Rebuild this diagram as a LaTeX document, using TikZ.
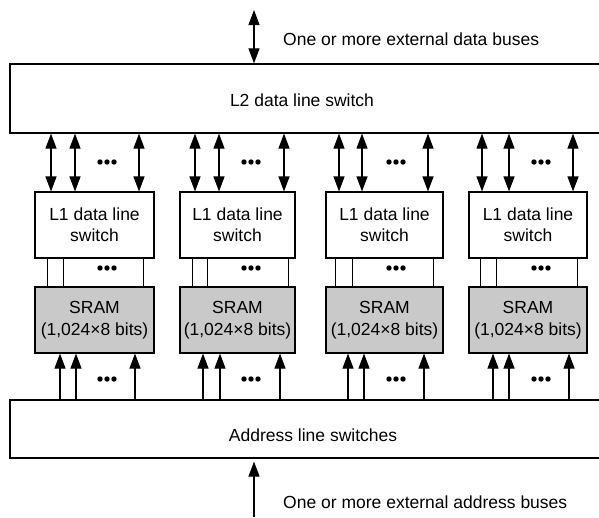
\documentclass[tikz,border=0pt]{standalone}
\usepackage{fontspec}
\setmainfont{Liberation Sans}
\usetikzlibrary{arrows.meta}
\begin{document}
\begin{tikzpicture}[x=1pt,y=-1pt,
  txt/.style={font=\fontsize{17.5}{21}\selectfont, inner sep=0pt},
  bigbox/.style={draw, line width=1.2pt, inner sep=0pt, minimum width=600pt},
  l1box/.style={draw, line width=1.1pt, fill=white, align=center, inner sep=0pt,
    minimum height=66pt, font=\fontsize{17.5}{21}\selectfont},
  srambox/.style={draw, line width=1.1pt, fill=black!21, align=center, inner sep=0pt,
    minimum height=66pt, font=\fontsize{17.5}{22}\selectfont},
  tip/.style={line width=1.1pt, -{Triangle[length=15pt,width=11pt]}},
  dtip/.style={line width=1.1pt, {Triangle[length=15pt,width=11pt]}-{Triangle[length=15pt,width=11pt]}},
  wire/.style={line width=1pt}
]
\useasboundingbox (0,0) rectangle (599,517);

% big switch boxes (right edge runs off the page)
\node[bigbox, minimum height=69pt] (L2sw) at (310,98.5) {};
\node[txt] (L2t) at (302,100) {L2 data line switch};
\node[bigbox, minimum height=58pt] (Asw) at (310,429) {};
\node[txt] (At) at (313,435) {Address line switches};

% external buses
\coordinate (dtop) at (254,10);
\draw[dtip] (dtop) -- (L2sw.north -| dtop);
\node[txt, anchor=west] (dlab) at (283,39) {One or more external data buses};
\coordinate (abot) at (254,517);
\draw[tip] (abot) -- ([yshift=-3pt]Asw.south -| abot);
\node[txt, anchor=west] (alab) at (283,502) {One or more external address buses};

% modules
\foreach \i/\l/\r/\ta/\tb/\tc/\ma/\mb/\mc/\aa/\ab/\ac/\d in {
  1/35/154/51/75/139/47/63/143/60/76/135/107,
  2/180/295/195/219/284/192/207/288/203/220/280/251,
  3/326/443/339/362/428/335/352/433/348/364/424/396,
  4/469/587/482/509/573/480/496/577/493/509/569/541}{
  \pgfmathsetmacro{\w}{\r-\l}
  \pgfmathsetmacro{\c}{(\l+\r)/2}
  \node[l1box, minimum width=\w pt] (M\i) at (\c,225) {L1 data line\\switch};
  \node[srambox, minimum width=\w pt] (S\i) at (\c,320) {SRAM\\(1,024×8 bits)};
  \foreach \x in {\ta,\tb,\tc}
    \draw[dtip] (L2sw.south -| \x,0) -- (M\i.north -| \x,0);
  \foreach \x in {\ma,\mb,\mc}
    \draw[wire] (M\i.south -| \x,0) -- (S\i.north -| \x,0);
  \foreach \x in {\aa,\ab,\ac}
    \draw[tip] (Asw.north -| \x,0) -- (S\i.south -| \x,0);
  \foreach \y in {162,268,379}
    \foreach \k in {-7,0,7}
      \fill (\d+\k,\y) circle (2.7pt);
}
\end{tikzpicture}
\end{document}
